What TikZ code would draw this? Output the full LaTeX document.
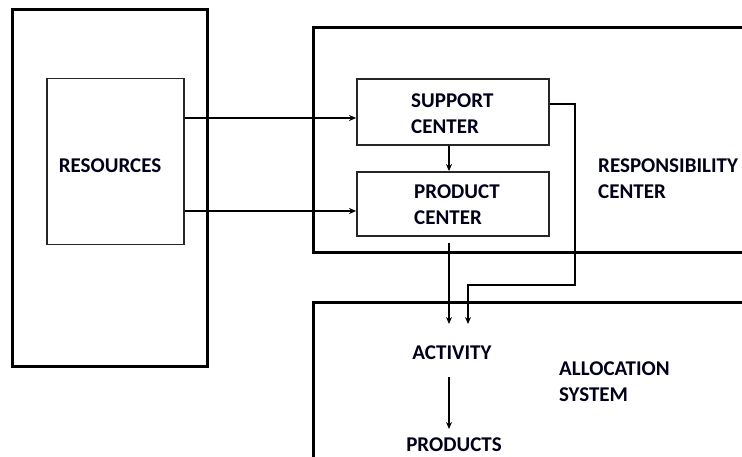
\documentclass[tikz,border=0pt]{standalone}
\usepackage{fontspec}
\setmainfont{Carlito}
\usetikzlibrary{arrows.meta}
\begin{document}
\begin{tikzpicture}[x=1pt,y=-1pt,
  frame/.style={draw=black,line width=3pt},
  inbox/.style={draw=black!85,line width=1.8pt,rectangle},
  lbl/.style={font=\fontsize{21}{26}\selectfont\bfseries,align=left,inner sep=0pt,text=black!90!blue},
  arr/.style={line width=2.5pt,-{Stealth[length=7pt,width=6pt]}},
  conn/.style={line width=2.5pt}]
\useasboundingbox (0,0) rectangle (742,457);
% outer frames
\draw[frame] (12,10) rectangle (207,366);
\draw[frame] (742,28) -- (313,28) -- (313,253) -- (742,253);
\draw[frame] (742,302) -- (313,302) -- (313,460);
% inner boxes
\node[inbox,minimum width=137pt,minimum height=166pt] (res) at (115.5,161.5) {};
\node[lbl] (reslbl) at (110,166) {RESOURCES};
\node[inbox,minimum width=192pt,minimum height=66pt] (sup) at (453,112) {};
\node[lbl,anchor=west] (suplbl) at (411,114) {SUPPORT\\CENTER};
\node[inbox,minimum width=192pt,minimum height=64pt] (prod) at (453,204) {};
\node[lbl,anchor=west] (prodlbl) at (414,205) {PRODUCT\\CENTER};
\node[lbl,anchor=west] (resp) at (598,179) {RESPONSIBILITY\\CENTER};
\node[lbl] (act) at (452,353) {ACTIVITY};
\node[lbl] (prods) at (454,445) {PRODUCTS};
\node[lbl,anchor=west] (alloc) at (559,382) {ALLOCATION\\SYSTEM};
% coordinates
\coordinate (a1) at (449,243);
\coordinate (a2) at (449,324);
\coordinate (b2) at (468,324);
\coordinate (c1) at (449,377);
\coordinate (c2) at (449,429);
% connectors
\draw[arr] (res.east |- 0,118) -- (sup.west |- 0,118);
\draw[arr] (res.east |- 0,211) -- (prod.west |- 0,211);
\draw[arr] ([xshift=-4pt]sup.south) -- ([xshift=-4pt]prod.north);
\draw[arr] (a1) -- (a2);
\draw[arr] (sup.east |- 0,104) -- (575,104) -- (575,285) -- (468,285) -- (b2);
\draw[arr] (c1) -- (c2);
\end{tikzpicture}
\end{document}
